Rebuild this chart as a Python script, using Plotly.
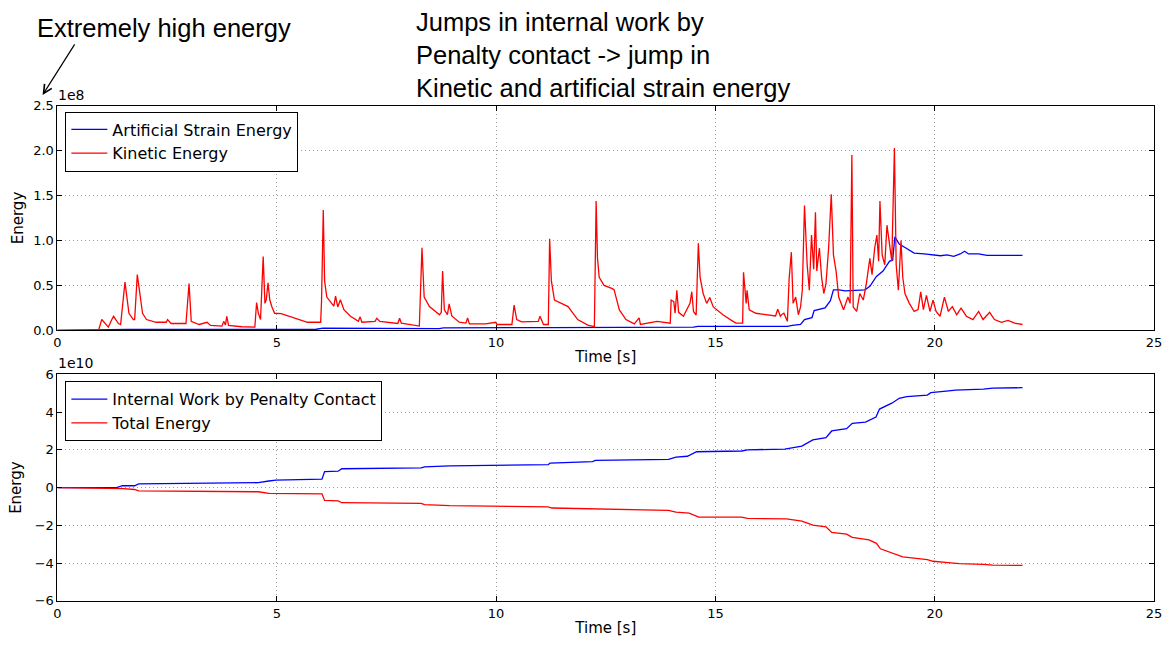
import plotly.graph_objects as go

# ---- Upper panel: energies in units of 1e8 ----
t_ke = [0, 0.6, 0.94, 1.01, 1.16, 1.24, 1.28, 1.39, 1.44, 1.54, 1.59, 1.63, 1.73, 1.76, 1.82, 1.88, 1.94,
        2.03, 2.25, 2.48, 2.51, 2.59, 2.93, 3.0, 3.05, 3.23, 3.41, 3.49, 3.75, 3.79, 3.83, 3.86, 3.9,
        4.2, 4.5, 4.54, 4.58, 4.63, 4.69, 4.73, 4.76, 4.8, 4.84, 4.89, 4.95, 5.1, 5.4, 5.7, 6.0,
        6.02, 6.06, 6.09, 6.14, 6.23, 6.3, 6.34, 6.39, 6.45, 6.53, 6.68, 6.86, 6.9, 6.94, 7.24, 7.28,
        7.35, 7.76, 7.8, 7.84, 8.25, 8.31, 8.36, 8.48, 8.71, 8.75, 8.78, 8.82, 8.89, 8.93, 8.99, 9.16,
        9.31, 9.35, 9.39, 9.76, 9.99, 10.02, 10.36, 10.41, 10.47, 10.58, 10.96, 11.0, 11.08, 11.19,
        11.22, 11.26, 11.33, 11.49, 11.64, 11.75, 11.86, 12.09, 12.24, 12.28, 12.31, 12.35, 12.46,
        12.65, 12.69, 12.81, 12.96, 13.15, 13.26, 13.29, 13.67, 13.97, 13.99, 14.05, 14.08, 14.12,
        14.16, 14.27, 14.42, 14.46, 14.5, 14.56, 14.61, 14.65, 14.72, 14.8, 14.87, 14.95, 15.17, 15.4,
        15.47, 15.62, 15.64, 15.7, 15.72, 15.77, 15.92, 16.37, 16.42, 16.48, 16.52, 16.56, 16.64,
        16.68, 16.73, 16.77, 16.83, 16.89, 16.94, 16.98, 17.03, 17.09, 17.14, 17.19, 17.24, 17.28,
        17.31, 17.37, 17.42, 17.47, 17.52, 17.58, 17.64, 17.69, 17.75, 17.81, 17.92, 18.02, 18.07,
        18.11, 18.14, 18.22, 18.29, 18.37, 18.44, 18.52, 18.57, 18.63, 18.68, 18.72, 18.75, 18.8,
        18.86, 18.91, 18.97, 19.02, 19.08, 19.12, 19.17, 19.23, 19.27, 19.32, 19.42, 19.53, 19.62,
        19.68, 19.74, 19.81, 19.89, 19.96, 20.03, 20.12, 20.22, 20.31, 20.4, 20.5, 20.6, 20.72,
        20.87, 21.0, 21.1, 21.25, 21.36, 21.52, 21.67, 21.82, 22.0]
kinetic = [0, 0.0, 0.005, 0.12, 0.036, 0.12, 0.156, 0.076, 0.065, 0.536, 0.34, 0.19, 0.12, 0.12, 0.62, 0.41, 0.19,
           0.12, 0.09, 0.09, 0.12, 0.076, 0.076, 0.52, 0.10, 0.065, 0.09, 0.054, 0.047, 0.10, 0.06, 0.156, 0.054,
           0.04, 0.036, 0.31, 0.19, 0.12, 0.82, 0.3, 0.34, 0.53, 0.34, 0.26, 0.19, 0.185, 0.14, 0.09, 0.09,
           0.32, 1.34, 0.55, 0.37, 0.32, 0.27, 0.38, 0.26, 0.34, 0.23, 0.156, 0.10, 0.15, 0.09, 0.1, 0.134,
           0.1, 0.076, 0.134, 0.08, 0.047, 0.92, 0.37, 0.264, 0.174, 0.2, 0.66, 0.228, 0.174, 0.294, 0.16, 0.09,
           0.08, 0.138, 0.072, 0.072, 0.09, 0.065, 0.065, 0.28, 0.12, 0.095, 0.1, 0.156, 0.065, 0.065,
           1.02, 0.55, 0.337, 0.30, 0.264, 0.192, 0.12, 0.058, 0.04, 1.44, 0.81, 0.59, 0.50,
           0.464, 0.45, 0.228, 0.12, 0.072, 0.138, 0.065, 0.1, 0.08, 0.337, 0.32, 0.19, 0.446,
           0.2, 0.156, 0.30, 0.43, 0.21, 0.17, 0.97, 0.59, 0.41, 0.30, 0.366, 0.26, 0.174, 0.1,
           0.08, 0.08, 0.645, 0.3, 0.446, 0.228, 0.19, 0.16, 0.235, 0.157, 0.18, 0.19, 0.1,
           0.573, 0.87, 0.30, 0.37, 0.174, 0.26, 0.446, 1.39, 0.735, 0.446, 1.06, 0.68, 1.315,
           0.66, 0.916, 0.59, 0.41, 0.52, 0.916, 1.514, 0.84, 0.66, 0.37, 0.228, 0.37, 0.3,
           1.95, 0.26, 0.21, 0.41, 0.337, 0.52, 0.80, 0.62, 0.916, 1.06, 0.77, 1.44, 0.84,
           0.73, 1.17, 0.916, 0.77, 2.03, 0.73, 0.446, 1.0, 0.59, 0.41, 0.30, 0.21, 0.23,
           0.427, 0.23, 0.39, 0.21, 0.337, 0.21, 0.157, 0.37, 0.21, 0.264, 0.174, 0.246, 0.157,
           0.12, 0.21, 0.12, 0.2, 0.12, 0.09, 0.11, 0.08, 0.065]

t_ase = [0, 1.5, 1.6, 5.9, 6.05, 8.7, 8.8, 11.2, 14.5, 14.6, 15.9, 16.64, 16.75, 16.94, 17.03, 17.2,
         17.25, 17.5, 17.62, 17.69, 17.81, 17.96, 18.41, 18.52, 18.67, 18.82, 18.97, 19.04, 19.09,
         19.19, 19.34, 19.53, 19.76, 19.98, 20.13, 20.28, 20.43, 20.58, 20.68, 20.77, 21.0, 21.19, 22.0]
strain = [0, 0.005, 0.01, 0.012, 0.025, 0.02, 0.028, 0.03, 0.035, 0.045, 0.04, 0.045, 0.055, 0.065, 0.12, 0.14,
          0.22, 0.25, 0.33, 0.45, 0.45, 0.44, 0.45, 0.49, 0.6, 0.66, 0.77, 0.78, 1.04,
          0.96, 0.916, 0.86, 0.85, 0.837, 0.83, 0.84, 0.823, 0.85, 0.88, 0.85, 0.85, 0.835, 0.833]

# ---- Lower panel: energies in units of 1e10 ----
t_iw = [0, 1.35, 1.48, 1.76, 1.85, 4.58, 4.82, 4.98, 6.03, 6.09, 6.4, 6.48, 8.29, 8.37, 8.94, 10.39,
        11.19, 11.23, 12.2, 12.26, 13.93, 14.1, 14.36, 14.57, 15.6, 15.73, 16.58, 16.97, 17.22, 17.52,
        17.65, 17.99, 18.12, 18.42, 18.66, 18.74, 19.02, 19.19, 19.36, 19.83, 19.91, 20.26, 20.47,
        21.11, 21.32, 22.0]
internal_work = [0, 0, 0.1, 0.1, 0.2, 0.26, 0.35, 0.4, 0.45, 0.85, 0.87, 1.0, 1.04, 1.1, 1.15, 1.2,
                 1.22, 1.3, 1.38, 1.44, 1.49, 1.61, 1.66, 1.9, 1.94, 2.0, 2.04, 2.2, 2.53, 2.65,
                 3.0, 3.12, 3.4, 3.47, 3.74, 4.16, 4.47, 4.73, 4.82, 4.9, 5.03, 5.11, 5.16,
                 5.22, 5.27, 5.29]

t_te = [0, 1.4, 1.5, 1.76, 1.85, 4.58, 4.82, 6.03, 6.09, 6.4, 6.48, 8.29, 8.37, 8.94, 10.39, 11.19,
        11.27, 12.2, 12.26, 13.93, 14.1, 14.4, 14.62, 15.6, 15.73, 16.62, 16.97, 17.22, 17.52, 17.65,
        17.99, 18.12, 18.5, 18.67, 18.76, 19.1, 19.27, 19.83, 19.96, 20.3, 20.56, 21.11, 21.32, 22.0]
total_energy = [0, -0.02, -0.05, -0.1, -0.17, -0.22, -0.3, -0.33, -0.68, -0.7, -0.8, -0.83, -0.9, -0.95, -0.98, -1.02,
                -1.08, -1.12, -1.16, -1.21, -1.3, -1.35, -1.56, -1.56, -1.63, -1.66, -1.77, -1.99, -2.08, -2.37,
                -2.46, -2.63, -2.77, -2.95, -3.24, -3.5, -3.67, -3.81, -3.9, -3.97, -4.02, -4.06, -4.1, -4.12]

W, H = 1173, 648
BLUE, RED = "#0000ff", "#ff0000"
TICK_FONT = dict(family="DejaVu Sans", size=13, color="black")
LABEL_FONT = dict(family="DejaVu Sans", size=15, color="black")
LEGEND_FONT = dict(family="DejaVu Sans", size=16, color="black")
NOTE_FONT = dict(family="Liberation Sans", size=25.5, color="black")


def px_x(p):
    return p / W


def px_y(p):
    return 1 - p / H


fig = go.Figure()
fig.add_trace(go.Scatter(x=t_ase, y=strain, mode="lines", name="Artificial Strain Energy",
                         line=dict(color=BLUE, width=1.3), xaxis="x", yaxis="y", legend="legend"))
fig.add_trace(go.Scatter(x=t_ke, y=kinetic, mode="lines", name="Kinetic Energy",
                         line=dict(color=RED, width=1.3), xaxis="x", yaxis="y", legend="legend"))
fig.add_trace(go.Scatter(x=t_iw, y=internal_work, mode="lines", name="Internal Work by Penalty Contact",
                         line=dict(color=BLUE, width=1.3), xaxis="x2", yaxis="y2", legend="legend2"))
fig.add_trace(go.Scatter(x=t_te, y=total_energy, mode="lines", name="Total Energy",
                         line=dict(color=RED, width=1.3), xaxis="x2", yaxis="y2", legend="legend2"))

axis_style = dict(showline=True, linecolor="black", linewidth=1, mirror="ticks",
                  ticks="inside", ticklen=5, tickcolor="black",
                  showgrid=True, gridcolor="#9a9a9a", griddash="1px,3px", gridwidth=1,
                  zeroline=False, tickfont=TICK_FONT)

x_dom = [px_x(54), px_x(1162)]
legend_style = dict(xanchor="left", yanchor="top", bgcolor="white", bordercolor="black",
                    borderwidth=1, font=LEGEND_FONT, itemwidth=36)
fig.update_layout(
    width=W, height=H,
    margin=dict(l=0, r=0, t=0, b=0),
    paper_bgcolor="white", plot_bgcolor="white",
    xaxis=dict(domain=x_dom, anchor="y", range=[0, 25], dtick=5, tick0=0,
               title=dict(text="Time [s]", font=LABEL_FONT, standoff=2), **axis_style),
    yaxis=dict(domain=[px_y(331), px_y(101)], anchor="x", range=[0, 2.5], dtick=0.5,
               tickformat=".1f",
               title=dict(text="Energy", font=LABEL_FONT, standoff=5), **axis_style),
    xaxis2=dict(domain=x_dom, anchor="y2", range=[0, 25], dtick=5, tick0=0,
                title=dict(text="Time [s]", font=LABEL_FONT, standoff=2), **axis_style),
    yaxis2=dict(domain=[px_y(608), px_y(376)], anchor="x2", range=[-6, 6], dtick=2,
                title=dict(text="Energy", font=LABEL_FONT, standoff=9), **axis_style),
    legend=dict(x=px_x(62), y=px_y(107), **legend_style),
    legend2=dict(x=px_x(62), y=px_y(383), **legend_style),
    showlegend=True,
)

notes = [
    # scale factors above each panel
    dict(text="1e8", x=px_x(53), y=px_y(100), xanchor="left", yanchor="bottom",
         font=dict(family="DejaVu Sans", size=14, color="black")),
    dict(text="1e10", x=px_x(53), y=px_y(375), xanchor="left", yanchor="bottom",
         font=dict(family="DejaVu Sans", size=14, color="black")),
    # commentary
    dict(text="Extremely high energy", x=px_x(31), y=px_y(21), xanchor="left", yanchor="middle",
         font=NOTE_FONT),
    dict(text="Jumps in internal work by<br>Penalty contact -> jump in<br>Kinetic and artificial strain energy",
         x=px_x(414), y=px_y(-1), xanchor="left", yanchor="top", align="left", font=NOTE_FONT),
]
for n in notes:
    fig.add_annotation(xref="paper", yref="paper", showarrow=False, **n)

# arrow pointing at the top of the upper energy axis
fig.add_annotation(xref="paper", yref="paper", x=px_x(39), y=px_y(90), text="",
                   showarrow=True, ax=33, ay=-52, arrowhead=5, arrowsize=1.4,
                   arrowwidth=1.2, arrowcolor="black")

fig.write_html("out.html")
